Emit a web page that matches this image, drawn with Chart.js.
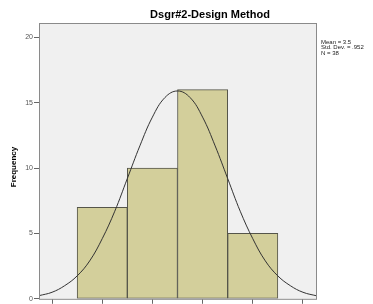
<!DOCTYPE html>
<html>
<head>
<meta charset="utf-8">
<script src="https://cdn.jsdelivr.net/npm/chart.js@4.4.1/dist/chart.umd.min.js"></script>
<style>
  html, body { margin: 0; padding: 0; background: #fff; }
  canvas { display: block; }
</style>
</head>
<body>
<canvas id="myChart" width="373" height="304"></canvas>
<script>
// Данные гистограммы
const binCenters = [2, 3, 4, 5]
const frequencies = [7, 10, 16, 5]

// Нормальная кривая
const curveX = [0.74, 1, 1.25, 1.5, 1.75, 2, 2.25, 2.5, 2.75, 3, 3.25, 3.5,
                3.75, 4, 4.25, 4.5, 4.75, 5, 5.25, 5.5, 5.75, 6, 6.28]
const curveY = [0.24, 0.5, 1.0, 1.75, 2.9, 4.6, 6.7, 9.2, 11.7, 13.9, 15.4, 15.9,
                15.4, 13.9, 11.7, 9.2, 6.7, 4.6, 2.9, 1.75, 1.0, 0.5, 0.22]

const xTicks = [1, 2, 3, 4, 5, 6]
const yTicks = [0, 5, 10, 15, 20]

const chartTitle = 'Dsgr#2-Design Method'
const yTitle = 'Frequency'
const stats = ['Mean = 3.5', 'Std. Dev. = .952', 'N = 38']

// Фон и рамка области графика + подписи
const frame = {
    id: 'frame',
    beforeDatasetsDraw(chart) {
        const { ctx, chartArea: a } = chart
        ctx.save()
        ctx.fillStyle = '#f0f0f0'
        ctx.fillRect(a.left, a.top, a.right - a.left, a.bottom - a.top)
        ctx.restore()
    },
    afterDraw(chart) {
        const { ctx, chartArea: a } = chart
        ctx.save()
        ctx.strokeStyle = '#8a8a8a'
        ctx.lineWidth = 1
        ctx.strokeRect(a.left + 0.5, a.top + 0.5, a.right - a.left - 1, a.bottom - a.top)

        ctx.fillStyle = '#000'
        ctx.font = 'bold 11px "Liberation Sans", Arial, sans-serif'
        ctx.textAlign = 'center'
        ctx.textBaseline = 'middle'
        ctx.fillText(chartTitle, 210, 15)

        ctx.font = 'bold 8px "Liberation Sans", Arial, sans-serif'
        ctx.translate(14, 167)
        ctx.rotate(-Math.PI / 2)
        ctx.fillText(yTitle, 0, 0)
        ctx.restore()

        ctx.save()
        ctx.fillStyle = '#222'
        ctx.font = '6px "Liberation Sans", Arial, sans-serif'
        ctx.textAlign = 'left'
        ctx.textBaseline = 'middle'
        stats.forEach((s, i) => ctx.fillText(s, 321, 42 + i * 5.5))
        ctx.restore()
    }
}

const ctx = document.getElementById('myChart').getContext('2d')

const myChart = new Chart(ctx, {
    data: {
        datasets: [{
            type: 'line',
            data: curveX.map((x, i) => ({ x: x, y: curveY[i] })),
            borderColor: '#333',
            borderWidth: 1,
            pointRadius: 0,
            tension: 0.4,
            order: 0
        }, {
            type: 'bar',
            data: binCenters.map((x, i) => ({ x: x, y: frequencies[i] })),
            backgroundColor: '#d3cf9b',
            borderColor: '#55554a',
            borderWidth: 1,
            borderSkipped: false,
            barPercentage: 1,
            categoryPercentage: 1,
            order: 1
        }]
    },
    options: {
        responsive: false,
        animation: false,
        layout: { padding: { top: 23, right: 56, left: 0, bottom: 0 } },
        plugins: { legend: { display: false }, tooltip: { enabled: false } },
        scales: {
            x: {
                type: 'linear',
                offset: false,
                min: 0.74,
                max: 6.28,
                afterBuildTicks: (s) => { s.ticks = xTicks.map(v => ({ value: v })) },
                afterFit: (s) => { s.height = 4 },
                border: { display: false },
                grid: { offset: false, drawOnChartArea: false, tickLength: 5, color: '#666' },
                ticks: { display: false }
            },
            y: {
                min: 0,
                max: 21.1,
                afterBuildTicks: (s) => { s.ticks = yTicks.map(v => ({ value: v })) },
                afterFit: (s) => { s.width = 39 },
                border: { display: false },
                grid: { drawOnChartArea: false, tickLength: 5, color: '#666' },
                ticks: {
                    padding: 1,
                    color: '#555',
                    font: { size: 7, family: '"Liberation Sans", Arial, sans-serif' }
                }
            }
        }
    },
    plugins: [frame]
})
</script>
</body>
</html>
